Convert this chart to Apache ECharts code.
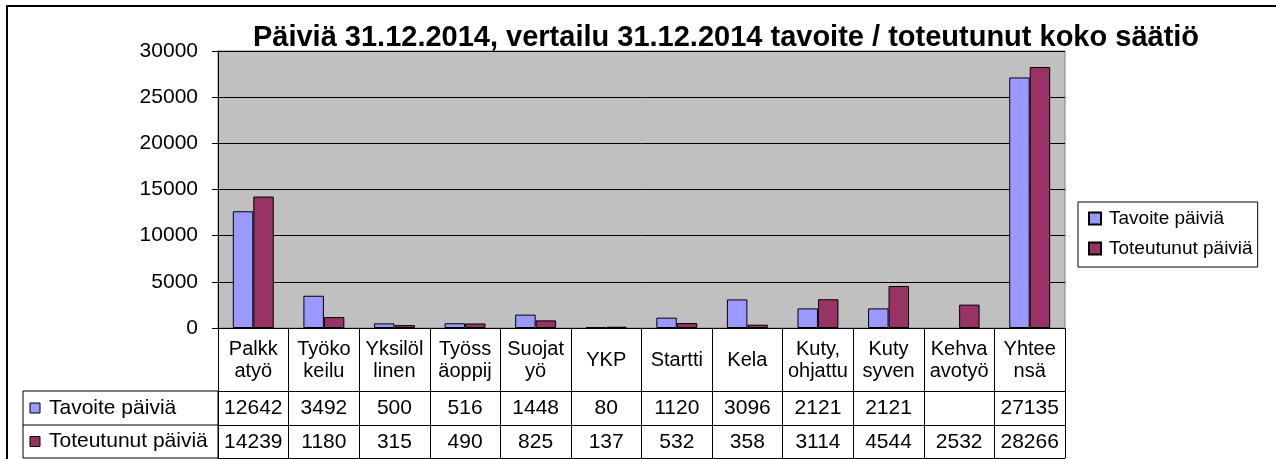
<!DOCTYPE html>
<html>
<head>
<meta charset="utf-8">
<script src="https://cdn.jsdelivr.net/npm/echarts@6/dist/echarts.min.js"></script>
<style>html,body{margin:0;padding:0;background:#fff;}#c{width:1276px;height:459px;}</style>
</head>
<body>
<div id="c"></div>
<script>
const categories = ['Palkk\natyö','Työko\nkeilu','Yksilöl\nlinen','Työss\näoppij','Suojat\nyö','YKP','Startti','Kela','Kuty,\nohjattu','Kuty\nsyven','Kehva\navotyö','Yhtee\nnsä'];
const tavoite = [12642, 3492, 500, 516, 1448, 80, 1120, 3096, 2121, 2121, null, 27135];
const toteutunut = [14239, 1180, 315, 490, 825, 137, 532, 358, 3114, 4544, 2532, 28266];
const seriesNames = ['Tavoite päiviä', 'Toteutunut päiviä'];
const colors = ['#9999FF', '#993366'];
const yMin = 0, yMax = 30000, yStep = 5000;
const titleText = 'Päiviä 31.12.2014, vertailu 31.12.2014 tavoite / toteutunut koko säätiö';

const FONT = "'Liberation Sans', Arial, sans-serif";
const chart = echarts.init(document.getElementById('c'), null, {renderer: 'canvas'});

const gridTop = 51, gridBottomY = 328, gridLeft = 218, gridRightX = 1065;
const row1 = 391, row2 = 425, row3 = 458;

function tableAxis(offset, tickLen, formatter, showLabel) {
  return {
    type: 'category', data: categories, position: 'bottom', offset: offset,
    axisLine: {show: true, lineStyle: {color: '#000', width: 1}},
    axisTick: {show: tickLen > 0, length: tickLen, lineStyle: {color: '#000', width: 1}},
    axisLabel: {show: showLabel, interval: 0, margin: 17, verticalAlign: 'middle',
      fontFamily: FONT, fontSize: 21, color: '#000', formatter: formatter},
    splitLine: {show: false}
  };
}

const option = {
  backgroundColor: '#fff',
  animation: false,
  title: {
    text: titleText, left: 726, top: 23, textAlign: 'center', padding: 0,
    textStyle: {fontFamily: FONT, fontSize: 29, fontWeight: 'bold', color: '#000'}
  },
  legend: {
    orient: 'vertical', left: 1078, top: 202,
    padding: [7, 5, 9, 10], itemGap: 11, itemWidth: 12, itemHeight: 12,
    icon: 'rect', borderColor: '#000', borderWidth: 1,
    textStyle: {fontFamily: FONT, fontSize: 19, color: '#000', padding: [0, 0, 0, 3]},
    data: seriesNames
  },
  grid: {
    left: gridLeft, top: gridTop, right: 1276 - gridRightX, bottom: 459 - gridBottomY,
    show: true, backgroundColor: '#C0C0C0', borderColor: '#808080', borderWidth: 1,
    containLabel: false
  },
  xAxis: [
    {
      type: 'category', data: categories, position: 'bottom',
      axisLine: {show: true, lineStyle: {color: '#000', width: 1}},
      axisTick: {show: true, length: row1 - gridBottomY, lineStyle: {color: '#000'}},
      axisLabel: {interval: 0, margin: 32, verticalAlign: 'middle', lineHeight: 22,
        fontFamily: FONT, fontSize: 20, color: '#000'},
      splitLine: {show: false}
    },
    tableAxis(row1 - gridBottomY, row2 - row1, (v, i) => tavoite[i] == null ? '' : String(tavoite[i]), true),
    tableAxis(row2 - gridBottomY, row3 - row2, (v, i) => toteutunut[i] == null ? '' : String(toteutunut[i]), true),
    tableAxis(row3 - gridBottomY, 0, () => '', false)
  ],
  yAxis: {
    type: 'value', min: yMin, max: yMax, interval: yStep,
    axisLine: {show: true, lineStyle: {color: '#000', width: 1}},
    axisTick: {show: true, length: 6, lineStyle: {color: '#000'}},
    axisLabel: {margin: 20, fontFamily: FONT, fontSize: 21, color: '#000', formatter: v => String(v)},
    splitLine: {show: true, lineStyle: {color: '#000', width: 1}}
  },
  series: [
    {name: seriesNames[0], type: 'bar', xAxisIndex: 0, data: tavoite,
      barGap: '0%', barCategoryGap: '42%',
      itemStyle: {color: colors[0], borderColor: '#000', borderWidth: 1}},
    {name: seriesNames[1], type: 'bar', xAxisIndex: 0, data: toteutunut,
      barGap: '0%', barCategoryGap: '42%',
      itemStyle: {color: colors[1], borderColor: '#000', borderWidth: 1}}
  ],
  graphic: [
    {type: 'rect', z: -10, shape: {x: 7, y: 6, width: 1320, height: 520},
      style: {fill: 'none', stroke: '#000', lineWidth: 2}},
    {type: 'rect', shape: {x: 23, y: row1, width: gridLeft - 23, height: row3 - row1},
      style: {fill: 'none', stroke: '#000', lineWidth: 1}},
    {type: 'line', shape: {x1: 23, y1: row2, x2: gridLeft, y2: row2},
      style: {stroke: '#000', lineWidth: 1}},
    {type: 'rect', shape: {x: 30, y: (row1 + row2) / 2 - 5, width: 10, height: 10},
      style: {fill: colors[0], stroke: '#000', lineWidth: 1}},
    {type: 'rect', shape: {x: 30, y: (row2 + row3) / 2 - 5, width: 10, height: 10},
      style: {fill: colors[1], stroke: '#000', lineWidth: 1}},
    {type: 'text', x: 49, y: (row1 + row2) / 2,
      style: {text: seriesNames[0], font: '21px ' + FONT, fill: '#000', verticalAlign: 'middle', align: 'left'}},
    {type: 'text', x: 49, y: (row2 + row3) / 2,
      style: {text: seriesNames[1], font: '21px ' + FONT, fill: '#000', verticalAlign: 'middle', align: 'left'}}
  ]
};
chart.setOption(option);
</script>
</body>
</html>
